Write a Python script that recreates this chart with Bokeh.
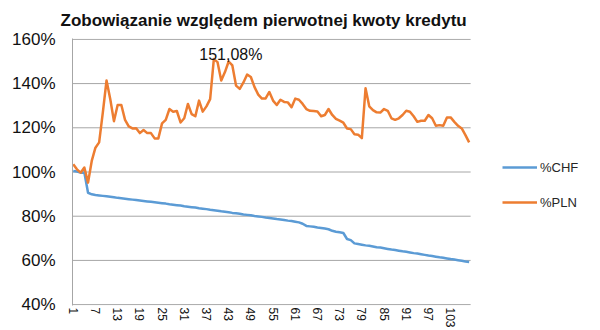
from bokeh.plotting import figure
from bokeh.models import Range1d, FixedTicker, Legend, LegendItem, Label, Title
from bokeh.embed import file_html
from bokeh.resources import INLINE

# Outstanding debt relative to the original loan amount, month by month
months = list(range(1, 109))

chf = [
    100.5, 100.2, 99.7, 99.8, 90.6, 89.9, 89.6, 89.4, 89.2, 89.0,
    88.8, 88.6, 88.3, 88.1, 87.9, 87.7, 87.5, 87.3, 87.1, 86.9,
    86.7, 86.5, 86.3, 86.1, 85.9, 85.7, 85.4, 85.2, 85.0, 84.8,
    84.5, 84.3, 84.1, 83.9, 83.6, 83.4, 83.2, 82.9, 82.7, 82.5,
    82.2, 82.0, 81.8, 81.5, 81.3, 81.1, 80.8, 80.6, 80.4, 80.1,
    79.9, 79.7, 79.4, 79.2, 79.0, 78.7, 78.5, 78.3, 78.0, 77.8,
    77.5, 77.2, 76.6, 75.6, 75.4, 75.2, 74.9, 74.7, 74.4, 74.1,
    73.4, 73.0, 72.7, 72.4, 69.7, 69.2, 67.7, 67.4, 67.1, 66.8,
    66.6, 66.3, 66.0, 65.8, 65.5, 65.2, 64.9, 64.7, 64.4, 64.1,
    63.9, 63.6, 63.3, 63.1, 62.8, 62.5, 62.2, 62.0, 61.7, 61.4,
    61.2, 60.9, 60.6, 60.4, 60.1, 59.8, 59.5, 59.3,
]

pln = [
    103.5, 101.2, 99.7, 102.0, 95.2, 105.0, 111.0, 113.4, 127.0, 141.4,
    133.0, 123.0, 130.3, 130.3, 123.6, 120.6, 119.7, 119.8, 117.6, 119.0,
    117.6, 117.6, 115.2, 115.2, 122.0, 123.6, 128.5, 127.3, 127.6, 122.4,
    124.3, 130.8, 126.2, 125.2, 132.3, 127.3, 129.7, 133.0, 151.08, 149.7,
    141.4, 145.2, 150.0, 148.2, 139.1, 137.6, 140.5, 144.1, 143.0, 138.4,
    135.0, 133.2, 133.3, 136.2, 132.3, 130.3, 132.7, 131.7, 131.5, 129.3,
    133.2, 132.7, 130.8, 128.5, 127.7, 127.6, 127.4, 125.2, 125.8, 128.5,
    125.8, 124.0, 123.2, 122.3, 119.7, 119.4, 117.1, 116.9, 115.3, 137.9,
    129.7, 128.0, 127.0, 126.9, 128.5, 127.7, 124.3, 123.6, 124.3, 125.8,
    127.7, 127.3, 125.2, 122.7, 123.2, 123.2, 125.8, 124.3, 120.9, 121.2,
    120.9, 124.7, 124.7, 122.7, 120.9, 119.7, 116.7, 113.4,
]

y_ticks = [40, 60, 80, 100, 120, 140, 160]
x_ticks = [1, 7, 13, 19, 25, 31, 37, 43, 49, 55, 61, 67, 73, 79, 85, 91, 97, 103]
title_text = "Zobowiązanie względem pierwotnej kwoty kredytu"
series_names = ["%CHF", "%PLN"]

BLUE = "#5B9BD5"
ORANGE = "#ED7D31"
GRID = "#A6A6A6"
FONT = "Liberation Sans"

# The frame runs to the right edge so the legend can sit beside the lines;
# the gridlines themselves stop just after the last month.
X0, X1 = 0.8, 143.5
GRID_END = 108.4

p = figure(
    width=600, height=330, output_backend="svg", toolbar_location=None,
    x_range=Range1d(X0, X1), y_range=Range1d(39.6, 160.4),
    min_border_left=72, min_border_right=0, min_border_top=37, min_border_bottom=24,
)
p.outline_line_color = None
p.background_fill_color = "white"
p.border_fill_color = "white"

# chart title, lifted well above the plot area and centred over the gridlines
p.add_layout(Title(
    text=title_text, align="left", standoff=17, offset=-12,
    text_font=FONT, text_font_size="17px", text_font_style="bold",
    text_color="#111111",
), "above")

# horizontal gridlines (the 40% one doubles as the category axis line)
p.xgrid.grid_line_color = None
p.ygrid.grid_line_color = None
p.segment(x0=[X0] * len(y_ticks), y0=y_ticks, x1=[GRID_END] * len(y_ticks), y1=y_ticks,
          line_color=GRID, line_width=1)

p.yaxis.ticker = FixedTicker(ticks=y_ticks)
p.yaxis.major_label_overrides = {t: f"{t}%" for t in y_ticks}
p.yaxis.major_label_text_font = FONT
p.yaxis.major_label_text_font_size = "17px"
p.yaxis.major_label_text_color = "#111111"
p.yaxis.major_tick_line_color = None
p.yaxis.minor_tick_line_color = None
p.yaxis.major_tick_out = 0
p.yaxis.major_tick_in = 0
p.yaxis.major_label_standoff = 17
p.yaxis.axis_line_color = GRID

p.xaxis.ticker = FixedTicker(ticks=x_ticks)
p.xaxis.major_label_overrides = {t: str(t) for t in x_ticks}
p.xaxis.major_label_orientation = "vertical"
p.xaxis.major_label_text_font = FONT
p.xaxis.major_label_text_font_size = "12px"
p.xaxis.major_label_text_color = "#111111"
p.xaxis.major_tick_line_color = None
p.xaxis.minor_tick_line_color = None
p.xaxis.major_tick_out = 0
p.xaxis.major_tick_in = 0
p.xaxis.major_label_standoff = 2
p.xaxis.axis_line_color = None

# series
r_chf = p.line(months, chf, line_color=BLUE, line_width=2.5, line_join="round")
r_pln = p.line(months, pln, line_color=ORANGE, line_width=2.5, line_join="round")

# peak annotation
peak_val = max(pln)
peak_idx = months[pln.index(peak_val)]
peak_text = f"{peak_val:.2f}%".replace(".", ",")
p.add_layout(Label(
    x=peak_idx, y=peak_val, text=peak_text, x_offset=17, y_offset=5,
    text_align="center", text_baseline="alphabetic",
    text_font=FONT, text_font_size="16px", text_color="#111111",
))

legend = Legend(
    items=[LegendItem(label=series_names[0], renderers=[r_chf]),
           LegendItem(label=series_names[1], renderers=[r_pln])],
    location=(430, 93), orientation="vertical",
    glyph_width=35, glyph_height=20, label_height=20, spacing=15,
    padding=0, margin=0, label_standoff=3,
    border_line_color=None, background_fill_alpha=0,
    label_text_font=FONT, label_text_font_size="13px", label_text_color="#262626",
)
p.add_layout(legend)

open("out.html", "w").write(file_html(p, INLINE))
